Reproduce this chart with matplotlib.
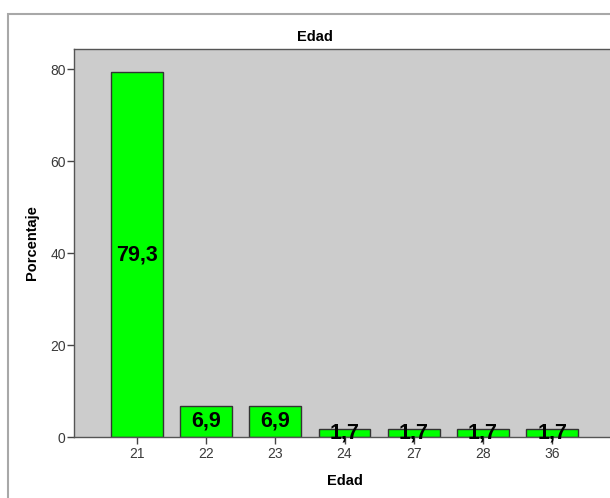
import matplotlib
matplotlib.use("Agg")
import matplotlib.pyplot as plt
from matplotlib.patches import Rectangle

categories = ["21", "22", "23", "24", "27", "28", "36"]
values = [79.3, 6.9, 6.9, 1.7, 1.7, 1.7, 1.7]
labels = ["79,3", "6,9", "6,9", "1,7", "1,7", "1,7", "1,7"]
yticks = [0, 20, 40, 60, 80]

plt.rcParams['font.family'] = ['Liberation Sans', 'DejaVu Sans']

W, H = 610, 498
fig = plt.figure(figsize=(W / 100, H / 100), dpi=100)
fig.patch.set_facecolor('white')

# outer frame
fig.patches.append(Rectangle((8 / W, -0.1), (622 - 8) / W, 1.1 - 14 / H,
                             transform=fig.transFigure, fill=False,
                             edgecolor='#A8A8A8', linewidth=1.5))

left, right, top, bottom = 74, 615, 49, 437.3
ax = fig.add_axes([left / W, (H - bottom) / H, (right - left) / W, (bottom - top) / H])
ax.set_facecolor('#CCCCCC')
x = list(range(len(categories)))
ax.bar(x, values, width=0.75, color='#00FF00', edgecolor='#333333', linewidth=1.0, zorder=2)
for xi, v, lab in zip(x, values, labels):
    ax.text(xi, v / 2, lab, ha='center', va='center', fontsize=15.5,
            fontweight='bold', color='black', zorder=3)

ax.set_xlim(-0.905, 6.905)
ax.set_ylim(0, 84.4)
ax.set_xticks(x)
ax.set_xticklabels(categories)
ax.set_yticks(yticks)
ax.tick_params(axis='both', direction='out', length=5, width=1, color='#444444',
               labelsize=10, labelcolor='#3A3A3A', pad=1)
ax.tick_params(axis='x', pad=2)
for s in ax.spines.values():
    s.set_color('#555555')
    s.set_linewidth(1.0)

fig.text(315 / W, 1 - 37 / H, "Edad", ha='center', va='center', fontsize=10.5, fontweight='bold')
fig.text(345 / W, 1 - 481 / H, "Edad", ha='center', va='center', fontsize=10.5, fontweight='bold')
fig.text(32 / W, 1 - 243 / H, "Porcentaje", ha='center', va='center', rotation=90,
         fontsize=10.5, fontweight='bold')

fig.savefig("out.png", dpi=100)
